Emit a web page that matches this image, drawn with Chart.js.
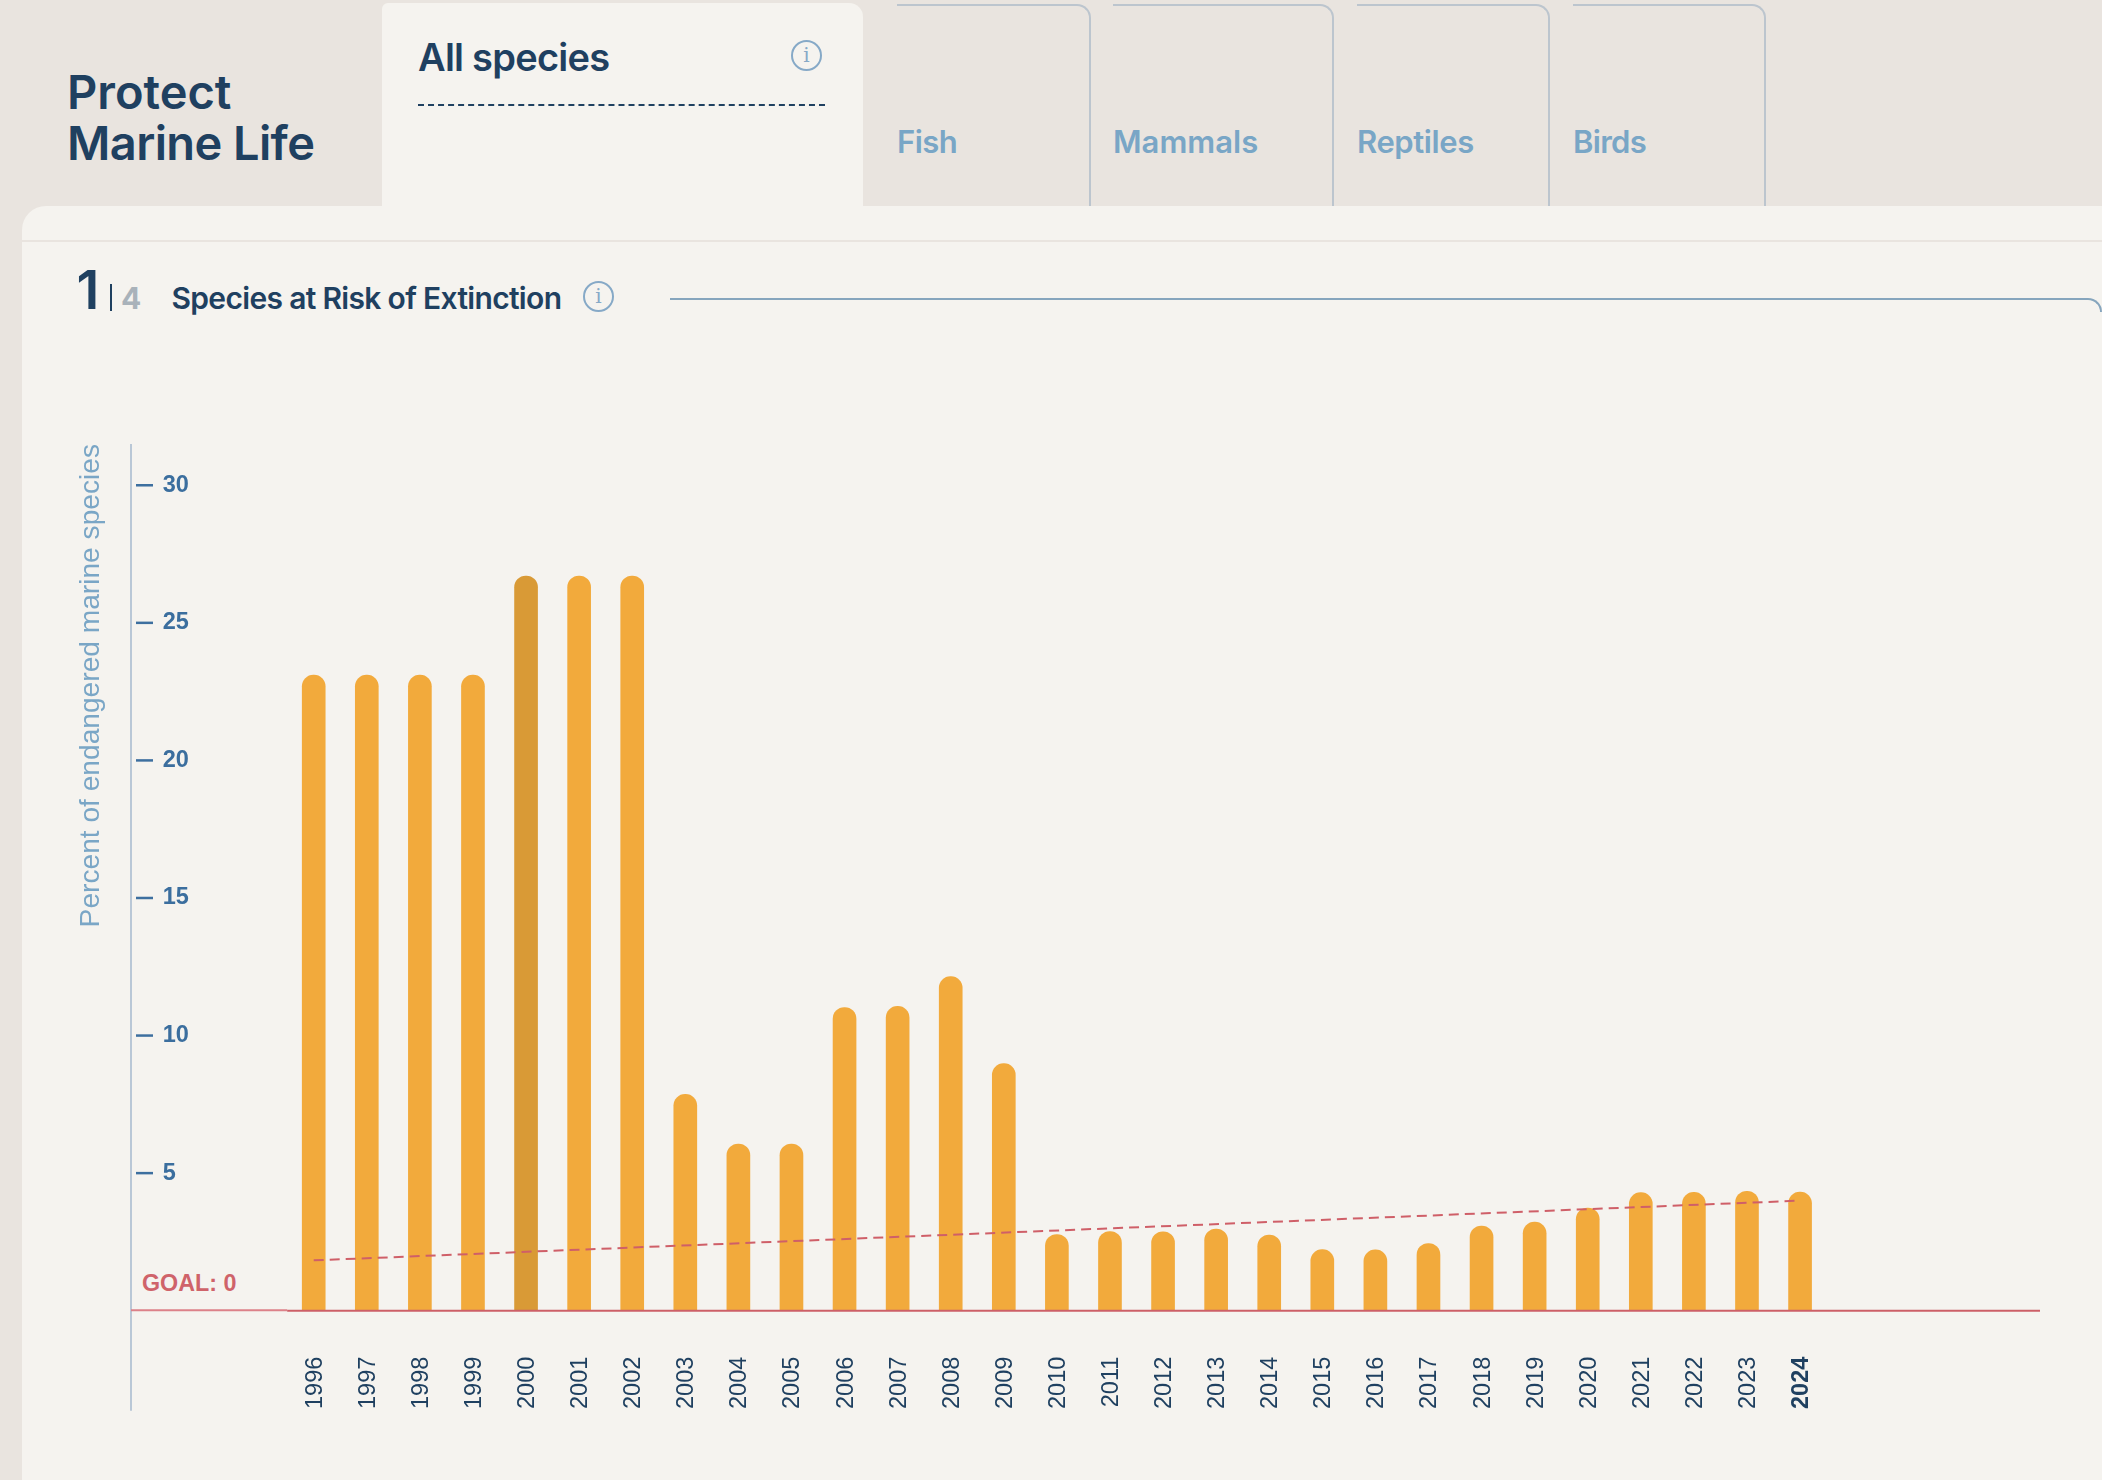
<!DOCTYPE html>
<html><head><meta charset="utf-8">
<script src="https://cdn.jsdelivr.net/npm/chart.js@4"></script>
<style>
html,body{margin:0;padding:0;background:#e9e4df;width:2102px;height:1480px;overflow:hidden;font-family:"Inter",sans-serif}
.abs{position:absolute;white-space:nowrap}
#panel{left:22px;top:206px;width:2080px;height:1274px;background:#f5f3ef;border-top-left-radius:24px}
#activeTab{left:382px;top:3px;width:481px;height:204px;background:#f5f3ef;border-top-right-radius:14px;border-top-left-radius:6px}
.tab{top:4px;height:202px;box-sizing:border-box;border-top:2px solid #bcc5ce;border-right:2px solid #bcc5ce;border-top-right-radius:14px}
.tabLabel{font-weight:600;font-size:31px;color:#79a6c6;line-height:36px;top:124px}
.h1{font-weight:600;font-size:47px;color:#1f4060;left:67px;line-height:52px}
#divider{left:22px;top:240px;width:2080px;height:2px;background:#e9e4df}
canvas{position:absolute;left:0;top:0}
.info{border:2px solid #86a9c7;border-radius:50%;width:27px;height:27px;color:#86a9c7;font:500 20px/27px "DejaVu Serif",serif;text-align:center}
</style></head><body>
<div class="abs" id="panel"></div>
<div class="abs" id="activeTab"></div>
<div class="abs tab" style="left:897px;width:194px"></div>
<div class="abs tab" style="left:1113px;width:221px"></div>
<div class="abs tab" style="left:1357px;width:193px"></div>
<div class="abs tab" style="left:1573px;width:193px"></div>
<div class="abs h1" style="top:66px;letter-spacing:0px">Protect</div>
<div class="abs h1" style="top:117px;letter-spacing:-0.6px">Marine Life</div>
<div class="abs" style="left:418px;top:34px;font-weight:600;font-size:38px;line-height:46px;color:#1f4060;letter-spacing:-0.75px">All species</div>
<div class="abs info" style="left:791px;top:40px">i</div>
<div class="abs" style="left:418px;top:104px;width:407px;height:0;border-top:2px dashed #1f4060"></div>
<div class="abs tabLabel" style="left:897px;letter-spacing:-0.55px">Fish</div>
<div class="abs tabLabel" style="left:1113px;letter-spacing:0px">Mammals</div>
<div class="abs tabLabel" style="left:1357px;letter-spacing:-0.4px">Reptiles</div>
<div class="abs tabLabel" style="left:1573px;letter-spacing:-0.7px">Birds</div>
<div class="abs" id="divider"></div>
<div class="abs" style="left:76.5px;top:258px;font-weight:600;font-size:54px;line-height:64px;color:#1f4060">1</div>
<div class="abs" style="left:110px;top:284px;width:2px;height:27px;background:#1f4060"></div>
<div class="abs" style="left:121px;top:280px;font-weight:700;font-size:30px;line-height:36px;color:#a9b2ba">4</div>
<div class="abs" style="left:171.5px;top:280px;font-weight:600;font-size:30px;line-height:36px;color:#1f4060;letter-spacing:-0.68px">Species at Risk of Extinction</div>
<div class="abs info" style="left:583px;top:281px">i</div>
<div class="abs" style="left:670px;top:298px;width:1432px;height:14px;box-sizing:border-box;border-top:2px solid #86a5bd;border-right:2px solid #86a5bd;border-top-right-radius:14px;"></div>
<div class="abs" style="left:142px;top:1269px;font:700 23.3px/28px 'Liberation Sans',sans-serif;color:#cf636a">GOAL: 0</div>
<canvas id="c" width="2102" height="1480" style="width:2102px;height:1480px"></canvas>
<script>
const years = [1996,1997,1998,1999,2000,2001,2002,2003,2004,2005,2006,2007,2008,2009,2010,2011,2012,2013,2014,2015,2016,2017,2018,2019,2020,2021,2022,2023,2024];
const values = [23.1,23.1,23.1,23.1,26.7,26.7,26.7,7.86,6.06,6.06,11.02,11.06,12.14,8.98,2.77,2.88,2.87,2.97,2.75,2.22,2.21,2.44,3.08,3.22,3.73,4.29,4.3,4.34,4.31];
const trendYears = [1996,2024];
const trendValues = [1.83,4.0];
const yTicks = [5,10,15,20,25,30];
const highlightYear = 2000;
const boldYear = 2024;
const yTitle = "Percent of endangered marine species";

const SANS = "'Liberation Sans', sans-serif";
const axisPlugin = {
  id:'axisPlugin',
  beforeDatasetsDraw(chart){
    const {ctx,chartArea,scales:{x,y}} = chart;
    ctx.save();
    ctx.strokeStyle='#b9c7d6'; ctx.lineWidth=2;
    ctx.beginPath(); ctx.moveTo(chartArea.left,chartArea.top); ctx.lineTo(chartArea.left,x.bottom); ctx.stroke();
    ctx.strokeStyle='#3d6f9f'; ctx.lineWidth=2.5;
    yTicks.forEach(v=>{const p=y.getPixelForValue(v); ctx.beginPath(); ctx.moveTo(chartArea.left+5,p); ctx.lineTo(chartArea.left+22,p); ctx.stroke();});
    ctx.restore();
  },
  afterDatasetsDraw(chart){
    const {ctx,chartArea,scales:{x,y}} = chart;
    const y0=y.getPixelForValue(0), xs=x.getPixelForValue(years[0]-0.5);
    ctx.save();
    ctx.lineWidth=2;
    ctx.strokeStyle='#dc8189'; ctx.beginPath(); ctx.moveTo(chartArea.left,y0-0.5); ctx.lineTo(xs,y0-0.5); ctx.stroke();
    ctx.strokeStyle='#cc5f67'; ctx.beginPath(); ctx.moveTo(xs,y0); ctx.lineTo(chartArea.right,y0); ctx.stroke();
    ctx.restore();
  }
};

new Chart(document.getElementById('c'),{
  type:'bar',
  data:{datasets:[
    {type:'line',order:0,data:trendYears.map((t,i)=>({x:t,y:trendValues[i]})),borderColor:'#cf5f68',borderWidth:2,borderDash:[10,6],pointRadius:0,fill:false,tension:0},
    {type:'bar',order:1,data:years.map((t,i)=>({x:t,y:values[i]})),
      backgroundColor:years.map(t=>t===highlightYear?'#d99a36':'#f2aa3c'),
      barThickness:23,borderRadius:{topLeft:11.5,topRight:11.5,bottomLeft:0,bottomRight:0},borderSkipped:false}
  ]},
  plugins:[axisPlugin],
  options:{
    responsive:false,animation:false,devicePixelRatio:1,
    layout:{padding:{left:74,right:62,top:444,bottom:69.3}},
    plugins:{legend:{display:false},tooltip:{enabled:false}},
    scales:{
      x:{type:'linear',offset:false,min:1992.558,max:2028.52,
        grid:{display:false,drawTicks:false},border:{display:false},
        afterFit(s){s.height=100;s.paddingLeft=0;s.paddingRight=0;},
        ticks:{stepSize:1,autoSkip:false,minRotation:90,maxRotation:90,padding:46,labelOffset:1.5,
          callback:v=>years.includes(v)?String(v):'',
          color:'#1f4060',
          font:c=>({family:SANS,size:23.5,weight:c.tick&&c.tick.value===boldYear?'700':'400'})}
      },
      y:{type:'linear',min:0,max:31.5,
        grid:{display:false,drawTicks:false},border:{display:false},
        afterFit(s){s.width=57;},
        title:{display:true,text:yTitle,align:'end',color:'#7aa6c6',font:{family:SANS,size:28.15},padding:0},
        ticks:{stepSize:5,mirror:true,padding:31.7,color:'#3b6e9e',autoSkip:false,
          callback:v=>yTicks.includes(v)?String(v):'',
          font:{family:SANS,size:23.5,weight:'700'}}
      }
    }
  }
});
</script>
</body></html>
